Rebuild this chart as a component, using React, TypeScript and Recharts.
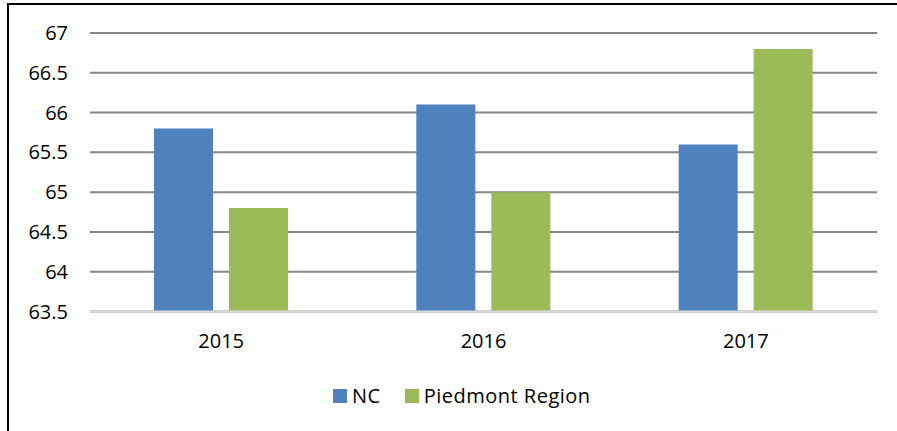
import React from "react";
import { BarChart, Bar, XAxis, YAxis, CartesianGrid, Legend } from "recharts";

const years = ["2015", "2016", "2017"];
const ncValues = [65.8, 66.1, 65.6];
const piedmontValues = [64.8, 65.0, 66.8];
const yTicks = [63.5, 64, 64.5, 65, 65.5, 66, 66.5, 67];

const data = years.map((y, i) => ({ year: y, nc: ncValues[i], piedmont: piedmontValues[i] }));

const FONT = "'Open Sans', 'Liberation Sans', sans-serif";
const BLUE = "#4f81bd";
const GREEN = "#9bbb59";

const LegendContent = () => (
  <div
    style={{
      display: "flex",
      alignItems: "center",
      paddingLeft: 333,
      paddingTop: 33,
      fontFamily: FONT,
      fontSize: 20,
      letterSpacing: 0.5,
      color: "#000",
      lineHeight: "22px",
    }}
  >
    <span style={{ width: 14, height: 14, background: BLUE, display: "inline-block", marginRight: 5 }} />
    <span style={{ marginRight: 24 }}>NC</span>
    <span style={{ width: 14, height: 14, background: GREEN, display: "inline-block", marginRight: 5 }} />
    <span>Piedmont Region</span>
  </div>
);

export default function App() {
  return (
    <div style={{ position: "fixed", left: 0, top: 0, width: 897, height: 431, overflow: "hidden", background: "#fff" }}>
      <div style={{ position: "absolute", left: 0, top: 0 }}>
        <BarChart
          width={897}
          height={431}
          data={data}
          margin={{ top: 33, right: 20, left: 8, bottom: 0 }}
          barGap={16}
          barSize={59}
        >
          <CartesianGrid horizontal vertical={false} stroke="#878787" strokeWidth={2} />
          <XAxis
            dataKey="year"
            height={40}
            axisLine={{ stroke: "#d9d9d9", strokeWidth: 2 }}
            tickLine={false}
            tick={{ fill: "#000", fontSize: 20, fontFamily: FONT }}
            dy={14}
          />
          <YAxis
            width={82}
            domain={[63.5, 67]}
            ticks={yTicks}
            interval={0}
            axisLine={false}
            tickLine={false}
            tick={{ fill: "#000", fontSize: 20, fontFamily: FONT }}
            tickFormatter={(v: number) => String(v)}
            dx={-14}
          />
          <Legend
            verticalAlign="bottom"
            content={<LegendContent />}
            wrapperStyle={{ left: 0, width: 897, height: 79.5 }}
          />
          <Bar dataKey="nc" name="NC" fill={BLUE} isAnimationActive={false} />
          <Bar dataKey="piedmont" name="Piedmont Region" fill={GREEN} isAnimationActive={false} />
        </BarChart>
      </div>
      <div
        style={{
          position: "absolute",
          left: 7,
          top: 3,
          width: 1000,
          height: 600,
          borderTop: "2px solid #000",
          borderLeft: "2px solid #000",
          boxSizing: "border-box",
          zIndex: 10,
          pointerEvents: "none",
        }}
      />
    </div>
  );
}
